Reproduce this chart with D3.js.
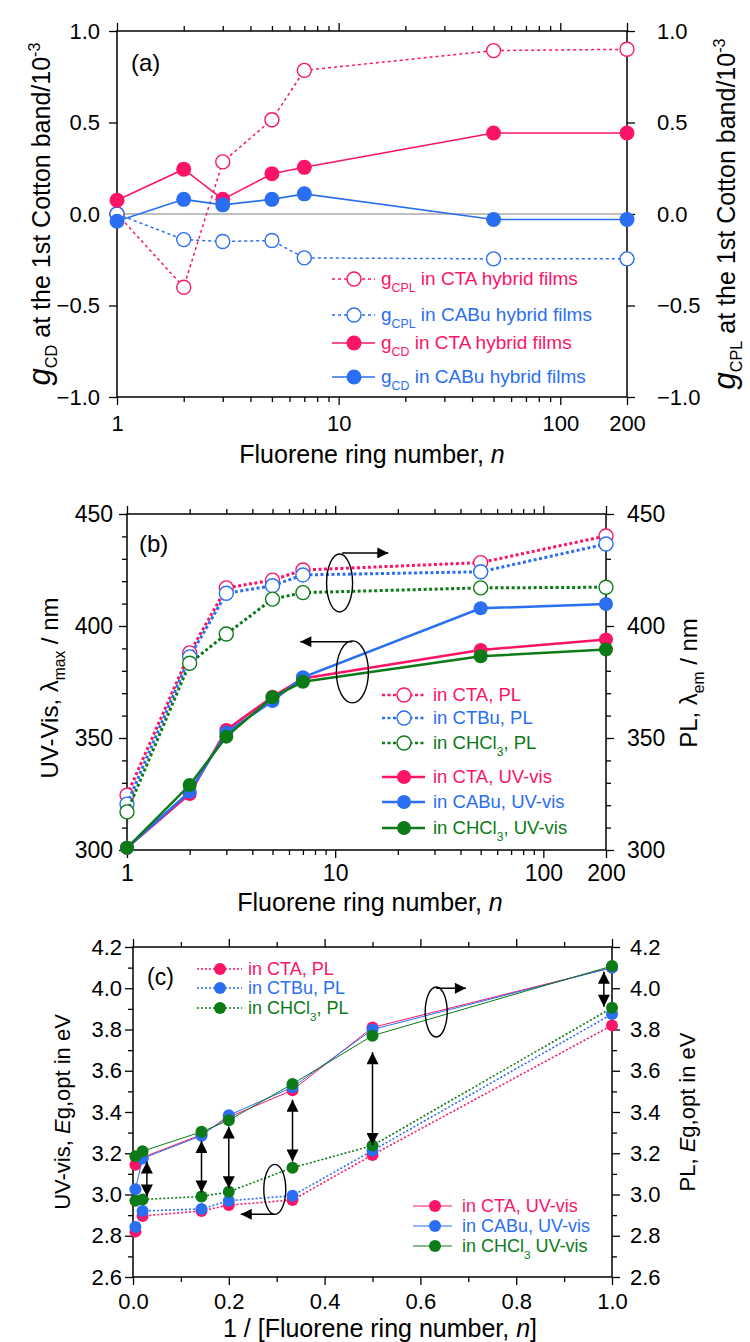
<!DOCTYPE html>
<html>
<head>
<meta charset="utf-8">
<script src="https://cdn.jsdelivr.net/npm/d3@7/dist/d3.min.js"></script>
<style>
  body { margin: 0; background: #fff; }
  svg text { font-family: "Liberation Sans", Arial, Helvetica, sans-serif; }
</style>
</head>
<body>
<div id="chart"></div>
<script>
// ---- data ----
// panel (a): g values vs fluorene ring number
const nRing = [1, 2, 3, 5, 7, 50, 200];
const gcplCTA  = [0.0, -0.40, 0.285, 0.515, 0.785, 0.893, 0.90];
const gcplCABu = [0.0, -0.14, -0.15, -0.145, -0.24, -0.245, -0.245];
const gcdCTA   = [0.075, 0.245, 0.08, 0.22, 0.255, 0.443, 0.443];
const gcdCABu  = [-0.04, 0.08, 0.05, 0.08, 0.11, -0.03, -0.03];

// panel (b): wavelengths / nm
const plCTA    = [324.5, 388, 417, 420.5, 425, 428.3, 440.2];
const plCTBu   = [320.5, 386.2, 414.6, 418, 422.8, 424.2, 436.6];
const plCHCl3  = [317, 383.4, 396.4, 412, 414.9, 417, 417.3];
const uvCTA    = [301, 325, 353.6, 368.4, 376.6, 389.3, 394];
const uvCABu   = [301, 326, 352.4, 366.5, 377.1, 407.9, 409.8];
const uvCHCl3  = [301, 329, 350.6, 368.2, 375.1, 386.5, 389.5];

// panel (c): optical gap / eV vs 1/n
const invN       = [0.005, 0.02, 0.143, 0.2, 0.333, 0.5, 1.0];
const egPlCTA    = [2.82, 2.896, 2.92, 2.949, 2.973, 3.192, 3.82];
const egPlCTBu   = [2.842, 2.92, 2.93, 2.97, 2.994, 3.213, 3.875];
const egPlCHCl3  = [2.97, 2.976, 2.99, 3.013, 3.13, 3.237, 3.905];
const egUvCTA    = [3.144, 3.18, 3.29, 3.375, 3.506, 3.81, 4.10];
const egUvCABu   = [3.026, 3.175, 3.285, 3.384, 3.52, 3.80, 4.10];
const egUvCHCl3  = [3.186, 3.21, 3.304, 3.36, 3.536, 3.77, 4.108];

// annotation marks (data units)
const bLoops  = [{n: 10.5, v: 419.2}, {n: 12.1, v: 379.5}];
const bArrows = [{n0: 10.8, n1: 18, v: 432.6}, {n0: 12.1, n1: 6.8, v: 393}];
const cLoops  = [{x: 0.633, v: 3.885}, {x: 0.296, v: 3.025}];
const cArrows = [{x0: 0.633, x1: 0.695, v: 4.0}, {x0: 0.296, x1: 0.225, v: 2.904}];
const cGaps   = [
  {x: 0.029, top: 3.16, bot: 2.99},
  {x: 0.143, top: 3.26, bot: 3.01},
  {x: 0.2,   top: 3.33, bot: 3.03},
  {x: 0.333, top: 3.46, bot: 3.16},
  {x: 0.5,   top: 3.69, bot: 3.24},
  {x: 0.983, top: 4.08, bot: 3.91}
];

// tick values
const logMajor = [1, 10, 100, 200];
const logMinor = [2, 3, 4, 5, 6, 7, 8, 9, 20, 30, 40, 50, 60, 70, 80, 90];
const aTicks = [-1, -0.5, 0, 0.5, 1];
const bTicks = [300, 350, 400, 450];
const bMinor = d3.range(310, 450, 10).filter(d => d % 50 !== 0);
const cTicks = [2.6, 2.8, 3.0, 3.2, 3.4, 3.6, 3.8, 4.0, 4.2];
const cMinor = d3.range(2.7, 4.2, 0.2);
const cxTicks = [0, 0.2, 0.4, 0.6, 0.8, 1.0];
const cxMinor = [0.1, 0.3, 0.5, 0.7, 0.9];

const pink = "#fb1468", blue = "#2a6ef2", green = "#0b7a17";

const svg = d3.select("#chart").append("svg")
              .attr("width", 750)
              .attr("height", 1342)
              .style("background", "#fff");

const defs = svg.append("defs");
const addHead = (id, w, h) => {
  defs.append("marker")
      .attr("id", id)
      .attr("viewBox", "0 0 10 10")
      .attr("refX", 10)
      .attr("refY", 5)
      .attr("markerWidth", w)
      .attr("markerHeight", h)
      .attr("markerUnits", "userSpaceOnUse")
      .attr("orient", "auto-start-reverse")
      .append("path")
      .attr("d", "M0,0L10,5L0,10Z")
      .attr("fill", "#000");
};
addHead("headB", 17, 11);
addHead("headC", 15, 12);

// ---- scales ----
const xA = d3.scaleLog().domain([1, 200]).range([117, 627]);
const yA = d3.scaleLinear().domain([-1, 1]).range([397, 31]);
const xB = d3.scaleLog().domain([1, 200]).range([127, 606]);
const yB = d3.scaleLinear().domain([300, 450]).range([850, 514]);
const xC = d3.scaleLinear().domain([0, 1]).range([133, 612]);
const yC = d3.scaleLinear().domain([2.6, 4.2]).range([1277, 947]);

const styleAxis = (g, fs) => {
  g.select(".domain").remove();
  g.selectAll(".tick line").attr("stroke", "#000").attr("stroke-width", 1.3);
  g.selectAll(".tick text").attr("fill", "#000").style("font-size", fs + "px");
};

const drawFrame = (x, y, o) => {
  const [xl, xr] = x.range();
  const [yb, yt] = y.range();
  const g = svg.append("g");
  // bottom
  g.append("g").attr("transform", `translate(0,${yb})`)
   .call(d3.axisBottom(x).tickValues(o.xMajor).tickSize(8).tickPadding(o.bPad).tickFormat(o.xFmt))
   .call(s => styleAxis(s, o.fs));
  g.append("g").attr("transform", `translate(0,${yb})`)
   .call(d3.axisBottom(x).tickValues(o.xMinor).tickSize(5).tickFormat(""))
   .call(s => styleAxis(s, o.fs));
  // top
  g.append("g").attr("transform", `translate(0,${yt})`)
   .call(d3.axisTop(x).tickValues(o.xMajor).tickSize(8).tickFormat(""))
   .call(s => styleAxis(s, o.fs));
  g.append("g").attr("transform", `translate(0,${yt})`)
   .call(d3.axisTop(x).tickValues(o.xMinor).tickSize(5).tickFormat(""))
   .call(s => styleAxis(s, o.fs));
  // left
  g.append("g").attr("transform", `translate(${xl},0)`)
   .call(d3.axisLeft(y).tickValues(o.yMajor).tickSize(8).tickPadding(o.lPad).tickFormat(o.yFmt))
   .call(s => styleAxis(s, o.fs));
  // right
  g.append("g").attr("transform", `translate(${xr},0)`)
   .call(d3.axisRight(y).tickValues(o.yMajor).tickSize(8).tickPadding(o.rPad).tickFormat(o.yFmt))
   .call(s => styleAxis(s, o.fs));
  if (o.yMinor) {
    g.append("g").attr("transform", `translate(${xl},0)`)
     .call(d3.axisLeft(y).tickValues(o.yMinor).tickSize(5).tickFormat(""))
     .call(s => styleAxis(s, o.fs));
    g.append("g").attr("transform", `translate(${xr},0)`)
     .call(d3.axisRight(y).tickValues(o.yMinor).tickSize(5).tickFormat(""))
     .call(s => styleAxis(s, o.fs));
  }
  g.append("rect")
   .attr("x", xl).attr("y", yt)
   .attr("width", xr - xl).attr("height", yb - yt)
   .attr("fill", "none").attr("stroke", "#000").attr("stroke-width", 1.5);
};

const drawSeries = (x, y, xs, ys, o) => {
  const pts = xs.map((d, i) => [d, ys[i]]);
  svg.append("path")
     .datum(pts)
     .attr("d", d3.line().x(d => x(d[0])).y(d => y(d[1])))
     .attr("fill", "none")
     .attr("stroke", o.color)
     .attr("stroke-width", o.width)
     .attr("stroke-dasharray", o.dash || null);
  svg.append("g").selectAll("circle")
     .data(pts)
     .join("circle")
     .attr("cx", d => x(d[0]))
     .attr("cy", d => y(d[1]))
     .attr("r", o.r)
     .attr("fill", o.open ? "#fff" : o.color)
     .attr("stroke", o.color)
     .attr("stroke-width", o.open ? 1.4 : 0);
};

// legend row: short line + marker + text made of parts [text, kind]
const legendRow = (x0, x1, cx, tx, y, o, parts, fs) => {
  svg.append("line")
     .attr("x1", x0).attr("x2", x1).attr("y1", y).attr("y2", y)
     .attr("stroke", o.color).attr("stroke-width", o.lw)
     .attr("stroke-dasharray", o.dash || null);
  svg.append("circle")
     .attr("cx", cx).attr("cy", y).attr("r", o.r)
     .attr("fill", o.open ? "#fff" : o.color)
     .attr("stroke", o.color).attr("stroke-width", o.open ? 1.4 : 0);
  const t = svg.append("text").attr("x", tx).attr("y", y + 6)
               .attr("fill", o.color).style("font-size", fs + "px");
  let shift = 0;
  parts.forEach(([s, kind]) => {
    const want = kind === "sub" ? 7 : 0;
    t.append("tspan").text(s)
     .attr("dy", want - shift)
     .style("font-size", kind === "sub" ? (fs * 0.65) + "px" : null);
    shift = want;
  });
};

// rotated axis title from parts
const vTitle = (x, y, parts, fs) => {
  const t = svg.append("text")
               .attr("transform", `translate(${x},${y}) rotate(-90)`)
               .attr("text-anchor", "middle")
               .attr("fill", "#000")
               .style("font-size", fs + "px");
  let shift = 0;
  parts.forEach(([s, kind]) => {
    const want = kind === "sub" ? 7 : kind === "sup" ? -10 : 0;
    const sp = t.append("tspan").text(s).attr("dy", want - shift);
    if (kind === "sub" || kind === "sup") sp.style("font-size", (fs * 0.65) + "px");
    if (kind === "it") sp.style("font-style", "italic");
    if (kind === "big") sp.style("font-style", "italic").style("font-size", (fs * 1.25) + "px");
    shift = want;
  });
};

const hTitle = (x, y, parts, fs) => {
  const t = svg.append("text").attr("x", x).attr("y", y)
               .attr("text-anchor", "middle").attr("fill", "#000")
               .style("font-size", fs + "px");
  parts.forEach(([s, kind]) => {
    const sp = t.append("tspan").text(s);
    if (kind === "it") sp.style("font-style", "italic");
  });
};

const loop = (cx, cy, rx, ry) => {
  svg.append("ellipse")
     .attr("cx", cx).attr("cy", cy).attr("rx", rx).attr("ry", ry)
     .attr("fill", "none").attr("stroke", "#000").attr("stroke-width", 1.4);
};

const arrow = (x1, y1, x2, y2, head, both) => {
  svg.append("line")
     .attr("x1", x1).attr("y1", y1).attr("x2", x2).attr("y2", y2)
     .attr("stroke", "#000").attr("stroke-width", 1.5)
     .attr("marker-end", `url(#${head})`)
     .attr("marker-start", both ? `url(#${head})` : null);
};

// ================= panel (a) =================
drawFrame(xA, yA, {
  xMajor: logMajor, xMinor: logMinor, yMajor: aTicks,
  xFmt: d3.format("d"), yFmt: d3.format(".1f"),
  bPad: 10, lPad: 9, rPad: 22, fs: 22
});

svg.append("line")
   .attr("x1", xA(1)).attr("x2", xA(200))
   .attr("y1", yA(0)).attr("y2", yA(0))
   .attr("stroke", "#aaa").attr("stroke-width", 1.5);

drawSeries(xA, yA, nRing, gcplCTA,  {color: pink, width: 1.5, dash: "3,3", r: 7, open: true});
drawSeries(xA, yA, nRing, gcplCABu, {color: blue, width: 1.5, dash: "3,3", r: 7, open: true});
drawSeries(xA, yA, nRing, gcdCTA,   {color: pink, width: 1.6, r: 7.5});
drawSeries(xA, yA, nRing, gcdCABu,  {color: blue, width: 1.6, r: 7.5});

svg.append("text").attr("x", 131).attr("y", 71).text("(a)").style("font-size", "24px");

legendRow(332, 375, 354, 381, 279, {color: pink, lw: 1.5, dash: "3,3", r: 7, open: true},
          [["g"], ["CPL", "sub"], [" in CTA hybrid films"]], 19);
legendRow(332, 375, 354, 381, 315, {color: blue, lw: 1.5, dash: "3,3", r: 7, open: true},
          [["g"], ["CPL", "sub"], [" in CABu hybrid films"]], 19);
legendRow(332, 375, 354, 381, 343, {color: pink, lw: 1.6, r: 7.5},
          [["g"], ["CD", "sub"], [" in CTA hybrid films"]], 19);
legendRow(332, 375, 354, 381, 377, {color: blue, lw: 1.6, r: 7.5},
          [["g"], ["CD", "sub"], [" in CABu hybrid films"]], 19);

vTitle(50, 214, [["g", "big"], ["CD", "sub"], [" at the 1st Cotton band/10"], ["-3", "sup"]], 25);
vTitle(735, 214, [["g", "big"], ["CPL", "sub"], [" at the 1st Cotton band/10"], ["-3", "sup"]], 25);
hTitle(372, 463, [["Fluorene ring number, "], ["n", "it"]], 25);

// ================= panel (b) =================
drawFrame(xB, yB, {
  xMajor: logMajor, xMinor: logMinor, yMajor: bTicks, yMinor: bMinor,
  xFmt: d3.format("d"), yFmt: d3.format("d"),
  bPad: 7, lPad: 6, rPad: 13, fs: 23
});

drawSeries(xB, yB, nRing, plCTA,   {color: pink,  width: 3, dash: "3,2.5", r: 7, open: true});
drawSeries(xB, yB, nRing, plCTBu,  {color: blue,  width: 3, dash: "3,2.5", r: 7, open: true});
drawSeries(xB, yB, nRing, plCHCl3, {color: green, width: 3, dash: "3,2.5", r: 7, open: true});
drawSeries(xB, yB, nRing, uvCTA,   {color: pink,  width: 2.5, r: 7});
drawSeries(xB, yB, nRing, uvCABu,  {color: blue,  width: 2.5, r: 7});
drawSeries(xB, yB, nRing, uvCHCl3, {color: green, width: 2.5, r: 7});

loop(xB(bLoops[0].n), yB(bLoops[0].v), 13, 29);
loop(xB(bLoops[1].n), yB(bLoops[1].v), 16, 31);
bArrows.forEach(a => arrow(xB(a.n0), yB(a.v), xB(a.n1), yB(a.v), "headB", false));

svg.append("text").attr("x", 139).attr("y", 552).text("(b)").style("font-size", "24px");

legendRow(382, 425, 404, 433, 695, {color: pink,  lw: 2.5, dash: "3,2.5", r: 7, open: true}, [["in CTA, PL"]], 18.5);
legendRow(382, 425, 404, 433, 718, {color: blue,  lw: 2.5, dash: "3,2.5", r: 7, open: true}, [["in CTBu, PL"]], 18.5);
legendRow(382, 425, 404, 433, 743, {color: green, lw: 2.5, dash: "3,2.5", r: 7, open: true},
          [["in CHCl"], ["3", "sub"], [", PL"]], 18.5);
legendRow(382, 425, 404, 433, 777, {color: pink,  lw: 2.5, r: 7}, [["in CTA, UV-vis"]], 18.5);
legendRow(382, 425, 404, 433, 802, {color: blue,  lw: 2.5, r: 7}, [["in CABu, UV-vis"]], 18.5);
legendRow(382, 425, 404, 433, 828, {color: green, lw: 2.5, r: 7},
          [["in CHCl"], ["3", "sub"], [", UV-vis"]], 18.5);

vTitle(58, 688, [["UV-Vis, λ"], ["max", "sub"], [" / nm"]], 24);
vTitle(697, 683, [["PL, λ"], ["em", "sub"], [" / nm"]], 24);
hTitle(370, 911, [["Fluorene ring number, "], ["n", "it"]], 25);

// ================= panel (c) =================
drawFrame(xC, yC, {
  xMajor: cxTicks, xMinor: cxMinor, yMajor: cTicks, yMinor: cMinor,
  xFmt: d3.format(".1f"), yFmt: d3.format(".1f"),
  bPad: 8, lPad: 3, rPad: 10, fs: 22
});

drawSeries(xC, yC, invN, egPlCTA,   {color: pink,  width: 1.6, dash: "2,2", r: 6});
drawSeries(xC, yC, invN, egPlCTBu,  {color: blue,  width: 1.6, dash: "2,2", r: 6});
drawSeries(xC, yC, invN, egPlCHCl3, {color: green, width: 1.6, dash: "2,2", r: 6});
drawSeries(xC, yC, invN, egUvCTA,   {color: pink,  width: 1, r: 6});
drawSeries(xC, yC, invN, egUvCABu,  {color: blue,  width: 1, r: 6});
drawSeries(xC, yC, invN, egUvCHCl3, {color: green, width: 1, r: 6});

cLoops.forEach(l => loop(xC(l.x), yC(l.v), 11, 25));
cArrows.forEach(a => arrow(xC(a.x0), yC(a.v), xC(a.x1), yC(a.v), "headB", false));
cGaps.forEach(a => arrow(xC(a.x), yC(a.top), xC(a.x), yC(a.bot), "headC", true));

svg.append("text").attr("x", 147).attr("y", 985).text("(c)").style("font-size", "23px");

legendRow(197, 242, 220, 248, 969,  {color: pink,  lw: 1.3, dash: "2,2", r: 6}, [["in CTA, PL"]], 18);
legendRow(197, 242, 220, 248, 988,  {color: blue,  lw: 1.3, dash: "2,2", r: 6}, [["in CTBu, PL"]], 18);
legendRow(197, 242, 220, 248, 1008, {color: green, lw: 1.3, dash: "2,2", r: 6},
          [["in CHCl"], ["3", "sub"], [", PL"]], 18);
legendRow(413, 452, 435, 462, 1206, {color: pink,  lw: 1.2, r: 6}, [["in CTA, UV-vis"]], 18);
legendRow(413, 452, 435, 462, 1226, {color: blue,  lw: 1.2, r: 6}, [["in CABu, UV-vis"]], 18);
legendRow(413, 452, 435, 462, 1246, {color: green, lw: 1.2, r: 6},
          [["in CHCl"], ["3", "sub"], [" UV-vis"]], 18);

vTitle(70, 1112, [["UV-vis, "], ["E", "it"], ["g,opt in eV"]], 22);
vTitle(695, 1112, [["PL, "], ["E", "it"], ["g,opt  in eV"]], 22);
hTitle(380, 1337, [["1 / [Fluorene ring number, "], ["n", "it"], ["]"]], 25);
</script>
</body>
</html>
